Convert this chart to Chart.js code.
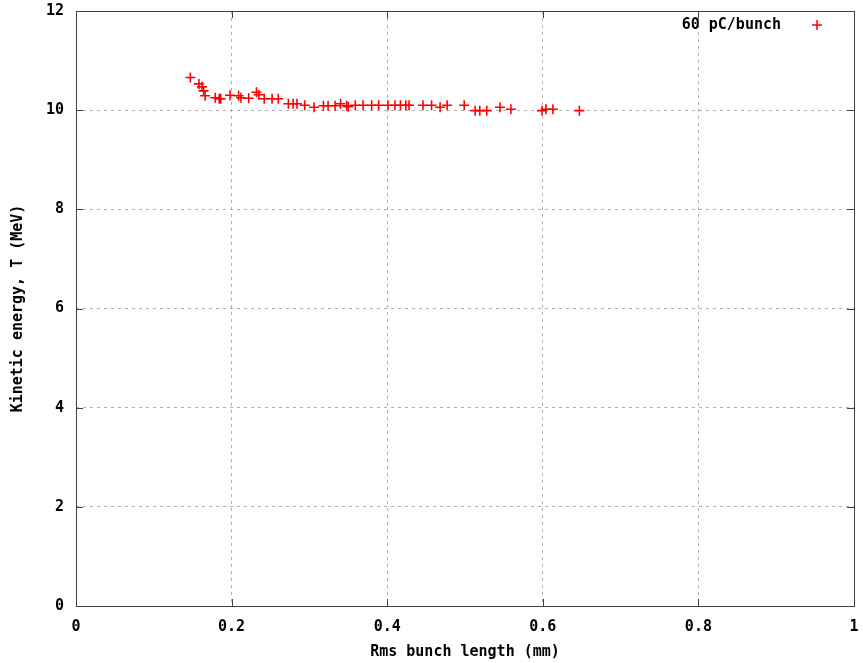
<!DOCTYPE html>
<html><head><meta charset="utf-8">
<script src="https://cdn.jsdelivr.net/npm/chart.js@4/dist/chart.umd.min.js"></script>
<style>html,body{margin:0;padding:0;background:#fff}#wrap{width:863px;height:663px}</style>
</head><body><div id="wrap"><canvas id="c" width="863" height="663"></canvas></div>
<script>
const seriesName = "60 pC/bunch";
const xTitle = "Rms bunch length (mm)";
const yTitle = "Kinetic energy, T (MeV)";
const xTicks = [0, 0.2, 0.4, 0.6, 0.8, 1];
const yTicks = [0, 2, 4, 6, 8, 10, 12];
const bunchLength = [0.147,0.158,0.162,0.164,0.166,0.179,0.184,0.186,0.198,0.209,0.212,0.222,0.232,0.235,0.242,0.252,0.260,0.273,0.279,0.284,0.294,0.306,0.318,0.324,0.333,0.340,0.348,0.350,0.359,0.369,0.380,0.389,0.401,0.410,0.417,0.424,0.428,0.446,0.457,0.468,0.477,0.499,0.513,0.519,0.528,0.545,0.559,0.599,0.604,0.613,0.647];
const kineticEnergy = [10.66,10.53,10.47,10.39,10.29,10.25,10.23,10.23,10.30,10.29,10.25,10.24,10.36,10.31,10.23,10.23,10.23,10.13,10.13,10.13,10.10,10.06,10.09,10.09,10.09,10.13,10.09,10.07,10.10,10.10,10.10,10.10,10.10,10.10,10.10,10.10,10.10,10.10,10.10,10.06,10.10,10.10,9.99,9.99,9.99,10.06,10.02,9.99,10.02,10.02,9.99];

const FONT = "bold 15px 'DejaVu Sans Mono', monospace";
const pts = bunchLength.map((x,i)=>({x:x,y:kineticEnergy[i]}));

const framePlugin = {
  id:'frame',
  afterDraw(chart){
    const ctx = chart.ctx, a = chart.chartArea;
    const xs = chart.scales.x, ys = chart.scales.y;
    ctx.save();
    ctx.strokeStyle = '#404040'; ctx.lineWidth = 1;
    ctx.strokeRect(Math.round(a.left)+0.5, Math.round(a.top)+0.5, Math.round(a.right-a.left), Math.round(a.bottom-a.top));
    const L = 7;
    ctx.beginPath();
    xTicks.forEach(v=>{ const p = Math.round(xs.getPixelForValue(v))+0.5;
      ctx.moveTo(p,a.bottom); ctx.lineTo(p,a.bottom-L); ctx.moveTo(p,a.top); ctx.lineTo(p,a.top+L); });
    yTicks.forEach(v=>{ const p = Math.round(ys.getPixelForValue(v))+0.5;
      ctx.moveTo(a.left,p); ctx.lineTo(a.left+L,p); ctx.moveTo(a.right,p); ctx.lineTo(a.right-L,p); });
    ctx.stroke();
    ctx.fillStyle = '#000'; ctx.font = FONT;
    ctx.textAlign = 'right'; ctx.textBaseline = 'middle';
    ctx.fillText(seriesName, 781, 25);
    ctx.strokeStyle = '#ff0000'; ctx.lineWidth = 1.5;
    ctx.beginPath(); ctx.moveTo(812,25); ctx.lineTo(822,25); ctx.moveTo(817,20); ctx.lineTo(817,30); ctx.stroke();
    ctx.textAlign = 'center';
    ctx.fillText(xTitle, (a.left+a.right)/2, 652);
    ctx.translate(18, (a.top+a.bottom)/2); ctx.rotate(-Math.PI/2);
    ctx.fillText(yTitle, 0, 0);
    ctx.restore();
  }
};

new Chart(document.getElementById('c'), {
  type:'scatter',
  data:{datasets:[{label:seriesName, data:pts, pointStyle:'cross', pointRadius:5, pointBorderWidth:1.6,
    borderColor:'#ff0000', backgroundColor:'#ff0000', showLine:false}]},
  options:{
    responsive:false, animation:false, devicePixelRatio:1,
    layout:{padding:{top:11, right:9, left:0, bottom:0}},
    plugins:{legend:{display:false}, tooltip:{enabled:false}},
    scales:{
      x:{type:'linear', min:0, max:1,
        afterFit(s){s.height=57; s.paddingLeft=0; s.paddingRight=0;},
        afterBuildTicks(s){s.ticks = xTicks.map(v=>({value:v}));},
        border:{display:false, dash:[3,4]},
        grid:{color:'#b0b0b0', drawTicks:false, lineWidth:1},
        ticks:{font:{family:"'DejaVu Sans Mono', monospace", size:15, weight:'bold'}, color:'#000', padding:12, maxRotation:0,
          callback:(v)=>String(v)}},
      y:{type:'linear', min:0, max:12,
        afterFit(s){s.width=76; s.paddingTop=0; s.paddingBottom=0;},
        afterBuildTicks(s){s.ticks = yTicks.map(v=>({value:v}));},
        border:{display:false, dash:[3,4]},
        grid:{color:'#b0b0b0', drawTicks:false, lineWidth:1},
        ticks:{font:{family:"'DejaVu Sans Mono', monospace", size:15, weight:'bold'}, color:'#000', padding:12,
          callback:(v)=>String(v)}}
    }
  },
  plugins:[framePlugin]
});
</script></body></html>
